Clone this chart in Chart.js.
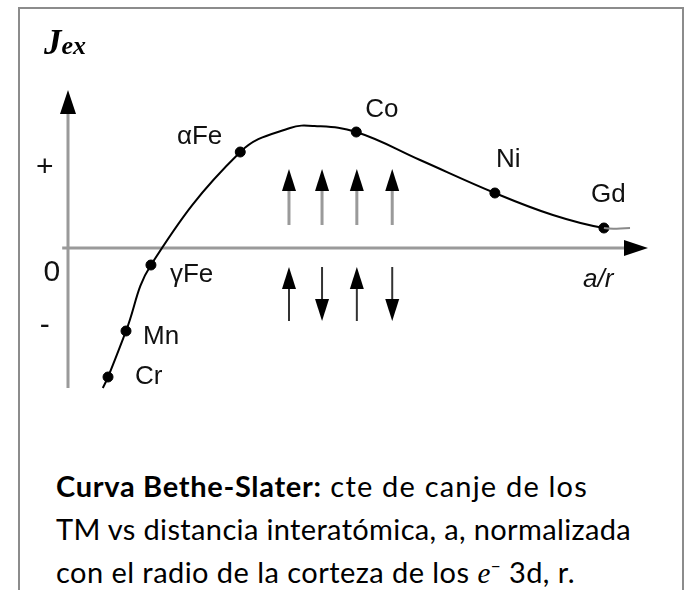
<!DOCTYPE html>
<html>
<head>
<meta charset="utf-8">
<script src="https://cdn.jsdelivr.net/npm/chart.js@4.4.1/dist/chart.umd.min.js"></script>
<style>
  html, body { margin:0; padding:0; background:#fff; }
  #frame { position:relative; width:685px; height:590px; overflow:hidden; }
  #box { position:absolute; left:18px; top:7px; width:662px; height:620px; border:2px solid #8c8c8c; border-bottom:none; }
  #plot { position:absolute; left:0; top:0; }
  #caption { position:absolute; left:56px; top:464px; width:628px; white-space:nowrap; font-family:Lato, 'Open Sans', sans-serif; font-size:29px; line-height:43px; color:#000; }
  #caption div { letter-spacing:0.45px; }
  #caption .l1 { letter-spacing:1.2px; }
  #caption .l2 { letter-spacing:0.35px; }
  #caption b { font-weight:700; letter-spacing:0.7px; }
  #caption i { font-family:'Liberation Serif', serif; }
  #caption sup { font-size:17px; vertical-align:11px; line-height:0; }
</style>
</head>
<body>
<div id="frame">
  <div id="box"></div>
  <canvas id="plot" width="685" height="430"></canvas>
  <div id="caption">
    <div class="l1"><b>Curva Bethe-Slater:</b> cte de canje de los</div>
    <div class="l2">TM vs distancia interatómica, a, normalizada</div>
    <div>con el radio de la corteza de los <i>e</i><sup>−</sup> 3d, r.</div>
  </div>
</div>
<script>
// Bethe-Slater curve: exchange constant vs a/r (arbitrary units)
const curveX = [0.60, 0.69, 1.00, 1.43, 2.97, 3.83, 4.25, 4.97, 6.07, 7.36, 8.36, 9.24, 9.69];
const curveY = [-7.0, -6.45, -4.15, -0.85, 4.8, 6.0, 6.1, 5.8, 4.4, 2.75, 1.65, 1.0, 1.0];

// metals placed on the curve
const elements = ['Cr', 'Mn', 'γFe', 'αFe', 'Co', 'Ni', 'Gd'];
const elemX = [0.69, 1.00, 1.43, 2.97, 4.97, 7.36, 9.24];
const elemY = [-6.45, -4.15, -0.85, 4.8, 5.8, 2.75, 1.0];
// label offsets (px) and alignment for each metal
const labelDX = [27, 17, 19, -18, 9, 1, -13];
const labelDY = [0, 6, 10, -15, -22, -33, -33];
const labelAlign = ['left', 'left', 'left', 'right', 'left', 'left', 'left'];

// spin sketches: ferro (above the axis) and antiferro (below)
const spinX = [3.81, 4.38, 4.98, 5.59];
const spinUpper = [1, 1, 1, 1];
const spinLower = [1, -1, 1, -1];
const upperRow = [1.15, 3.95];
const lowerRow = [-3.65, -0.95];

// sign marks beside the J axis
const signText = ['+', '0', '-'];
const signX = [-0.40, -0.28, -0.40];
const signY = [4.0, -1.25, -3.9];

function arrowHead(ctx, x, y, dir, len, half) {
  // dir: 1 = pointing up, -1 = down, 2 = right
  ctx.beginPath();
  if (dir === 2) {
    ctx.moveTo(x, y); ctx.lineTo(x - len, y - half); ctx.lineTo(x - len, y + half);
  } else {
    ctx.moveTo(x, y); ctx.lineTo(x - half, y + dir * len); ctx.lineTo(x + half, y + dir * len);
  }
  ctx.closePath();
  ctx.fill();
}

const sketch = {
  id: 'sketch',
  beforeDatasetsDraw(chart) {
    const { ctx, scales: { x, y } } = chart;
    const x0 = x.getPixelForValue(0), y0 = y.getPixelForValue(0);
    ctx.save();
    ctx.fillStyle = '#000';
    // axes
    ctx.strokeStyle = '#9a9a9a';
    ctx.lineWidth = 3;
    ctx.beginPath();
    ctx.moveTo(x0, y.getPixelForValue(-7));
    ctx.lineTo(x0, y.getPixelForValue(7.9) + 18);
    ctx.moveTo(x.getPixelForValue(-0.1), y0);
    ctx.lineTo(x.getPixelForValue(10) - 18, y0);
    ctx.stroke();
    arrowHead(ctx, x0, y.getPixelForValue(7.9), 1, 24, 8);
    arrowHead(ctx, x.getPixelForValue(10), y0, 2, 24, 8);

    // spin arrows
    const row = (dirs, ext, shaft, width) => {
      dirs.forEach((d, i) => {
        const px = x.getPixelForValue(spinX[i]);
        const lo = y.getPixelForValue(ext[0]), hi = y.getPixelForValue(ext[1]);
        const tip = d > 0 ? hi : lo, tail = d > 0 ? lo : hi;
        ctx.strokeStyle = shaft;
        ctx.lineWidth = width;
        ctx.beginPath();
        ctx.moveTo(px, tail);
        ctx.lineTo(px, tip + (d > 0 ? 18 : -18));
        ctx.stroke();
        arrowHead(ctx, px, tip, d > 0 ? 1 : -1, 22, 7);
      });
    };
    row(spinUpper, upperRow, '#9a9a9a', 3);
    row(spinLower, lowerRow, '#333', 2);
    ctx.restore();
  },
  afterDatasetsDraw(chart) {
    const { ctx, scales: { x, y } } = chart;
    ctx.save();
    ctx.fillStyle = '#111';
    ctx.textBaseline = 'middle';
    ctx.font = '26px "Liberation Sans", Arial, sans-serif';
    elements.forEach((name, i) => {
      ctx.textAlign = labelAlign[i];
      ctx.fillText(name, x.getPixelForValue(elemX[i]) + labelDX[i], y.getPixelForValue(elemY[i]) + labelDY[i]);
    });
    ctx.textAlign = 'center';
    ctx.font = '30px "Liberation Sans", Arial, sans-serif';
    signText.forEach((t, i) => ctx.fillText(t, x.getPixelForValue(signX[i]), y.getPixelForValue(signY[i])));
    ctx.font = 'italic 26px "Liberation Sans", Arial, sans-serif';
    ctx.fillText('a/r', x.getPixelForValue(9.14), y.getPixelForValue(-1.6));

    // axis title J_ex
    ctx.textAlign = 'left';
    ctx.textBaseline = 'alphabetic';
    ctx.fillStyle = '#000';
    ctx.font = 'bold italic 35px "Liberation Serif", serif';
    ctx.fillText('J', 44, 54);
    const w = ctx.measureText('J').width;
    ctx.font = 'bold italic 26px "Liberation Serif", serif';
    ctx.fillText('ex', 44 + w, 54);
    ctx.restore();
  }
};

new Chart(document.getElementById('plot'), {
  type: 'scatter',
  data: {
    datasets: [
      {
        label: 'Jex',
        data: curveX.map((v, i) => ({ x: v, y: curveY[i] })),
        showLine: true,
        borderColor: '#000',
        borderWidth: 2,
        pointRadius: 0,
        tension: 0.4,
        clip: false,
        segment: { borderColor: c => (c.p0DataIndex === curveX.length - 2 ? '#8a8a8a' : '#000') }
      },
      {
        label: 'metales',
        data: elemX.map((v, i) => ({ x: v, y: elemY[i] })),
        pointRadius: 5,
        pointBackgroundColor: '#000',
        pointBorderColor: '#000',
        clip: false
      }
    ]
  },
  options: {
    responsive: false,
    animation: false,
    layout: { padding: { left: 68, right: 37, top: 90, bottom: 42 } },
    plugins: { legend: { display: false }, tooltip: { enabled: false } },
    scales: {
      x: { type: 'linear', min: 0, max: 10, display: false },
      y: { type: 'linear', min: -7, max: 7.9, display: false }
    }
  },
  plugins: [sketch]
});
</script>
</body>
</html>
